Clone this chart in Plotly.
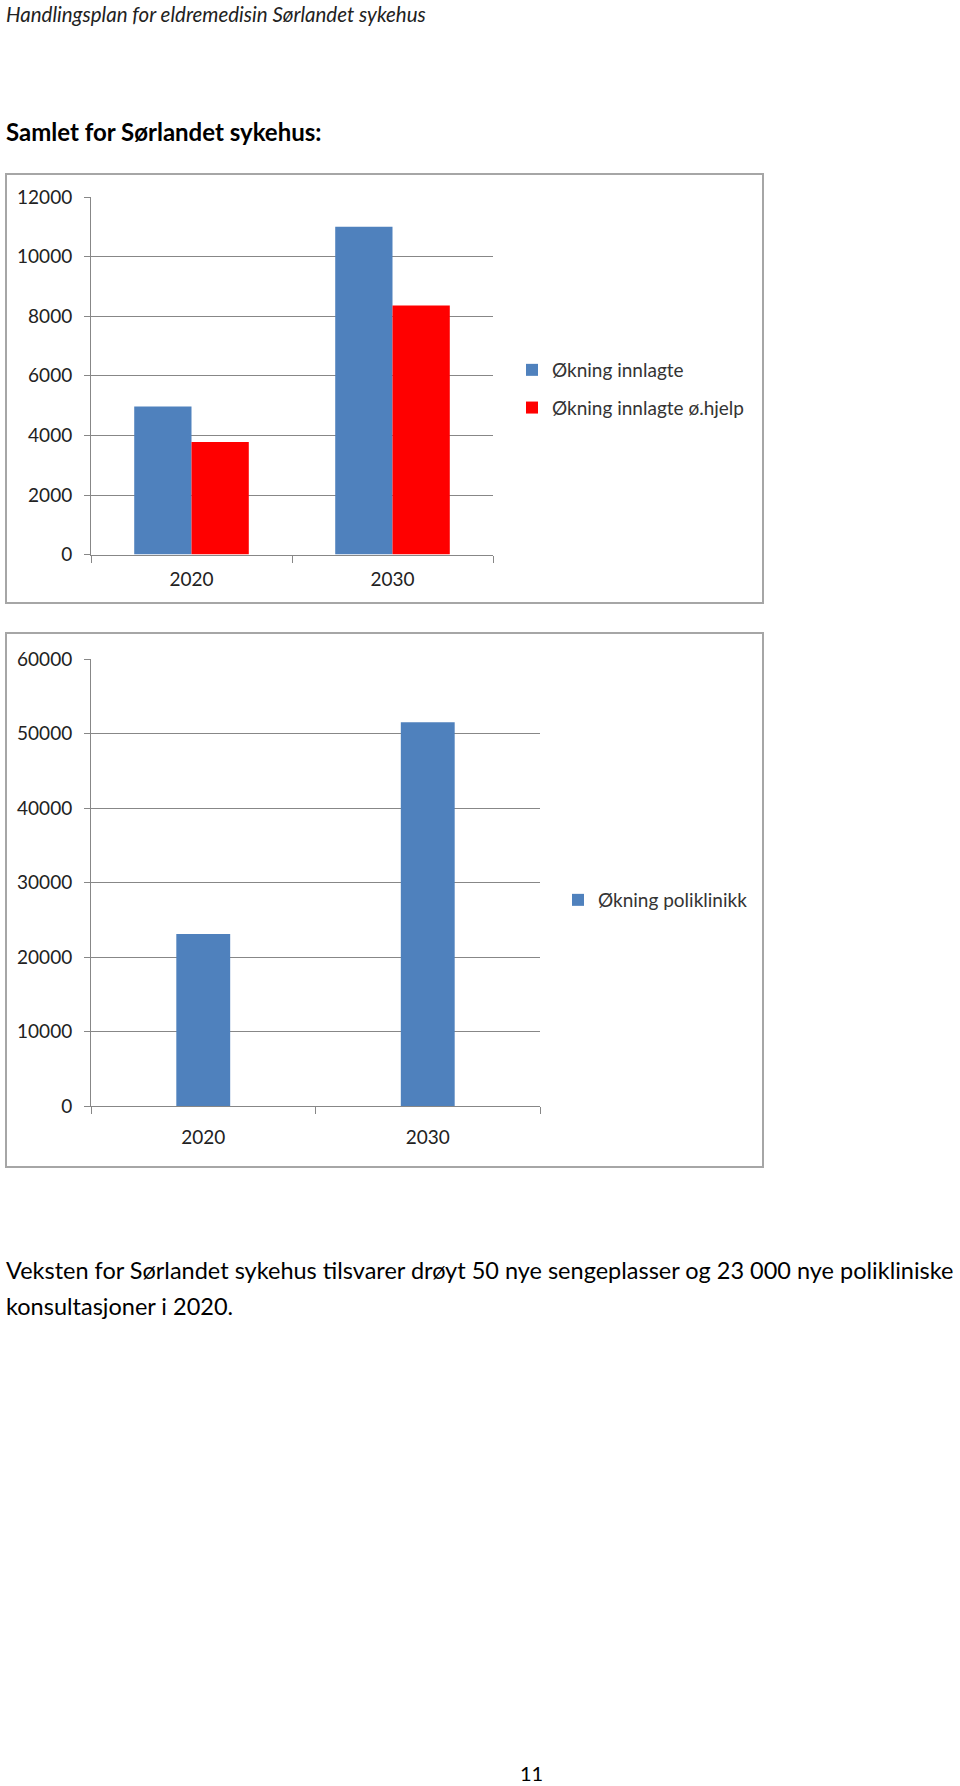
import plotly.graph_objects as go

W, H = 960, 1786

# chart 1: innlagte
years = ["2020", "2030"]
okning_innlagte = [4970, 11000]
okning_innlagte_ohjelp = [3780, 8360]

# chart 2: poliklinikk
okning_poliklinikk = [23100, 51500]

y1_ticks = [0, 2000, 4000, 6000, 8000, 10000, 12000]
y2_ticks = [0, 10000, 20000, 30000, 40000, 50000, 60000]

BLUE = "#4F81BD"
RED = "#FF0000"
GRID = "#878787"
FONT = "Lato"


def px_x(x):
    return x / W


def px_y(y):
    return 1 - y / H


fig = go.Figure()

fig.add_trace(go.Bar(x=years, y=okning_innlagte, name="Økning innlagte",
                     marker=dict(color=BLUE, line=dict(width=0)),
                     xaxis="x", yaxis="y", legend="legend", legendgroup="a"))
fig.add_trace(go.Bar(x=years, y=okning_innlagte_ohjelp, name="Økning innlagte ø.hjelp",
                     marker=dict(color=RED, line=dict(width=0)),
                     xaxis="x", yaxis="y", legend="legend", legendgroup="b"))
fig.add_trace(go.Bar(x=years, y=okning_poliklinikk, name="Økning poliklinikk",
                     marker=dict(color=BLUE, line=dict(width=0)),
                     xaxis="x2", yaxis="y2", legend="legend2", width=0.24))

axis_font = dict(family=FONT, size=19, color="#222222")

xcommon = dict(showline=True, linecolor=GRID, linewidth=1, ticks="outside",
               tickson="boundaries", ticklen=7, tickcolor=GRID,
               showgrid=False, tickfont=axis_font, fixedrange=True)
ycommon = dict(showline=True, linecolor=GRID, linewidth=1, ticks="outside",
               ticklen=6, tickcolor=GRID, showgrid=True, gridcolor=GRID,
               gridwidth=1, zeroline=False, tickfont=axis_font, fixedrange=True,
               ticklabelstandoff=8)

fig.update_layout(
    width=W, height=H,
    margin=dict(l=0, r=0, t=0, b=0, autoexpand=False),
    paper_bgcolor="white", plot_bgcolor="white",
    barmode="group", bargap=0.43, bargroupgap=0,
    showlegend=True,
    xaxis=dict(domain=[px_x(91), px_x(493)], anchor="y", ticklabelstandoff=8, **xcommon),
    yaxis=dict(domain=[px_y(554.6), px_y(197)], anchor="x", range=[0, 12000],
               tickvals=y1_ticks, ticktext=[str(v) for v in y1_ticks], **ycommon),
    xaxis2=dict(domain=[px_x(91), px_x(540)], anchor="y2", ticklabelstandoff=14, **xcommon),
    yaxis2=dict(domain=[px_y(1106), px_y(659)], anchor="x2", range=[0, 60000],
                tickvals=y2_ticks, ticktext=[str(v) for v in y2_ticks], **ycommon),
    legend=dict(x=px_x(512), y=px_y(351), xanchor="left", yanchor="top",
                font=dict(family=FONT, size=19, color="#333333"),
                bgcolor="rgba(0,0,0,0)", tracegroupgap=10, itemwidth=30),
    legend2=dict(x=px_x(558), y=px_y(881), xanchor="left", yanchor="top",
                 font=dict(family=FONT, size=19, color="#333333"),
                 bgcolor="rgba(0,0,0,0)", itemwidth=30),
)

# chart frames
for y0, y1 in [(174, 603), (633, 1167)]:
    fig.add_shape(type="rect", xref="paper", yref="paper",
                  x0=px_x(6), x1=px_x(763), y0=px_y(y1), y1=px_y(y0),
                  line=dict(color="#A6A6A6", width=2), fillcolor="rgba(0,0,0,0)")

# page texts
fig.add_annotation(text="<i>Handlingsplan for eldremedisin Sørlandet sykehus</i>",
                   xref="paper", yref="paper", x=px_x(4), y=px_y(0),
                   xanchor="left", yanchor="top", showarrow=False,
                   font=dict(family=FONT, size=20.5, color="#222222"))
fig.add_annotation(text="<b>Samlet for Sørlandet sykehus:</b>",
                   xref="paper", yref="paper", x=px_x(4), y=px_y(131),
                   xanchor="left", yanchor="middle", showarrow=False,
                   font=dict(family=FONT, size=24, color="black"))
fig.add_annotation(text="Veksten for Sørlandet sykehus tilsvarer drøyt 50 nye sengeplasser og 23 000 nye polikliniske",
                   xref="paper", yref="paper", x=px_x(4), y=px_y(1270),
                   xanchor="left", yanchor="middle", showarrow=False,
                   font=dict(family=FONT, size=23.5, color="black"))
fig.add_annotation(text="konsultasjoner i 2020.",
                   xref="paper", yref="paper", x=px_x(4), y=px_y(1306),
                   xanchor="left", yanchor="middle", showarrow=False,
                   font=dict(family=FONT, size=23.5, color="black"))
fig.add_annotation(text="11",
                   xref="paper", yref="paper", x=px_x(531), y=px_y(1773),
                   xanchor="center", yanchor="middle", showarrow=False,
                   font=dict(family=FONT, size=20, color="black"))

# drop the default body margin so the figure sits at the page origin
fig.write_html("out.html", config={"displayModeBar": False},
               post_script="document.body.style.margin='0';")
